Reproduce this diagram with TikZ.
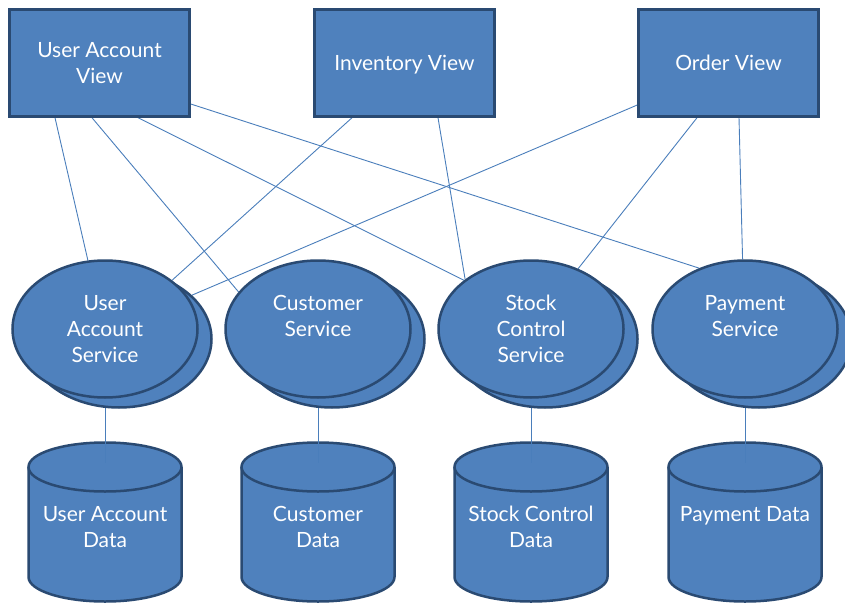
\documentclass[tikz,border=0pt]{standalone}
\usepackage{fontspec}
\setmainfont{Lato}
\usepackage{tikz}
\usetikzlibrary{shapes.geometric, positioning, backgrounds}
\definecolor{boxblue}{HTML}{4F81BD}
\definecolor{boxedge}{HTML}{2A4A72}
\definecolor{linkblue}{HTML}{4A7EBB}

\begin{document}
\begin{tikzpicture}[
  x=1pt, y=-1pt,
  every node/.style={
    text=white, align=center,
    font=\fontsize{21}{26}\selectfont % testo come nelle slide
  },
  view/.style={
    rectangle, draw=boxedge, fill=boxblue, line width=2.5pt,
    minimum width=180pt, minimum height=107pt, inner sep=0pt
  },
  service/.style={
    ellipse, draw=boxedge, fill=boxblue, line width=2.5pt,
    minimum width=185pt, minimum height=137pt, inner sep=0pt
  },
  link/.style={draw=linkblue, line width=0.9pt}
]
\useasboundingbox (0,0) rectangle (845,604);

% viste
\node[view] (uav) at (99.5,63) {User Account\\View};
\node[view, text depth=0pt] (iv) at (404.5,63) {Inventory View};
\node[view] (ov) at (728.5,63) {Order View};

% servizi (copia dietro, copia davanti)
\node[service] (uas-b) at (119,339) {};
\node[service] (cs-b) at (332,339) {};
\node[service] (scs-b) at (545,339) {};
\node[service] (ps-b) at (759,339) {};
\node[service] (uas) at (105,329) {User\\Account\\Service};
\node[service] (cs) at (318,329) {Customer\\Service\\\mbox{}};
\node[service] (scs) at (531,329) {Stock\\Control\\Service};
\node[service] (ps) at (745,329) {Payment\\Service\\\mbox{}};

\begin{scope}[on background layer]
  % collegamenti viste -> servizi
  \draw[link] ([xshift=-44.5pt]uav.south) -- (uas.104);
  \draw[link] ([xshift=-7.5pt]uav.south) -- (cs.155);
  \draw[link] ([xshift=38.5pt]uav.south) -- (scs.144);
  \draw[link] ([yshift=-41pt]uav.east) -- (ps.127);
  \draw[link] ([xshift=-52.5pt]iv.south) -- (uas.36);
  \draw[link] ([xshift=33.5pt]iv.south) -- (scs.143);
  \draw[link] ([yshift=-42pt]ov.west) -- (uas-b.31);
  \draw[link] ([xshift=-31.5pt]ov.south) -- (scs.52);
  \draw[link] ([xshift=10.5pt]ov.south) -- (ps.92);

  % basi di dati
  \foreach \name/\cx/\txt in {uad/105/{User Account\\Data},
                              cd/318/{Customer\\Data},
                              scd/531/{Stock Control\\Data},
                              pd/745/{Payment Data\\\mbox{}}}{
    \draw[draw=boxedge, fill=boxblue, line width=2.5pt]
      (\cx-76.5,467) -- (\cx-76.5,577)
      arc[start angle=180, end angle=0, x radius=76.5, y radius=24.5]
      -- (\cx+76.5,467);
    \draw[draw=boxedge, fill=boxblue, line width=2.5pt]
      (\cx,467) ellipse [x radius=76.5, y radius=24.5];
    \node (\name) at (\cx,527) {\txt};
    \coordinate (\name-top) at (\cx,463);
  }

  % servizi -> dati
  \draw[link] (uas) -- (uad-top);
  \draw[link] (cs) -- (cd-top);
  \draw[link] (scs) -- (scd-top);
  \draw[link] (ps) -- (pd-top);
\end{scope}
\end{tikzpicture}
\end{document}
